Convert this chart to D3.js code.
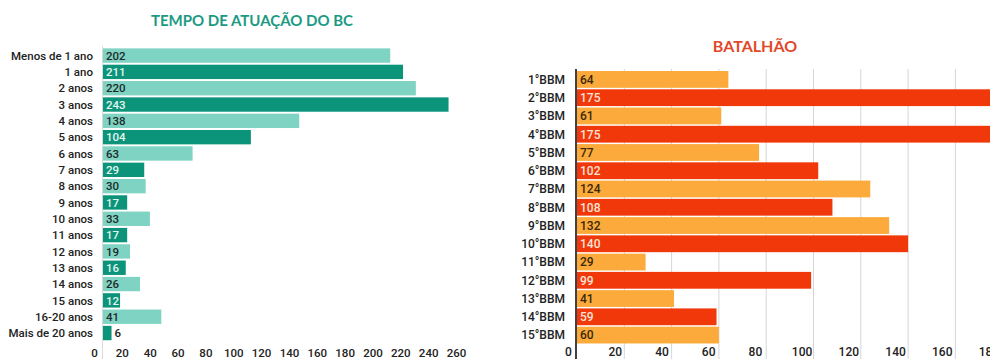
<!DOCTYPE html>
<html>
<head>
<meta charset="utf-8">
<script src="https://cdn.jsdelivr.net/npm/d3@7"></script>
<style>
  html, body { margin: 0; padding: 0; background: #fff; overflow: hidden; }
  svg { display: block; }
</style>
</head>
<body>
<svg id="chart" width="990" height="359"></svg>
<script>
// ---- Data ----
const tempoCategories = ["Menos de 1 ano","1 ano","2 anos","3 anos","4 anos","5 anos","6 anos","7 anos","8 anos","9 anos","10 anos","11 anos","12 anos","13 anos","14 anos","15 anos","16-20 anos","Mais de 20 anos"];
const tempoValues = [202,211,220,243,138,104,63,29,30,17,33,17,19,16,26,12,41,6];
const tempoTicks = [0,20,40,60,80,100,120,140,160,180,200,220,240,260];
const tempoTitle = "TEMPO DE ATUAÇÃO DO BC";

const batalhaoCategories = ["1°BBM","2°BBM","3°BBM","4°BBM","5°BBM","6°BBM","7°BBM","8°BBM","9°BBM","10°BBM","11°BBM","12°BBM","13°BBM","14°BBM","15°BBM"];
const batalhaoValues = [64,175,61,175,77,102,124,108,132,140,29,99,41,59,60];
const batalhaoTicks = [0,20,40,60,80,100,120,140,160,180];
const batalhaoTitle = "BATALHÃO";

const svg = d3.select("#chart");
const labelFont = "Roboto, 'Liberation Sans', sans-serif";
const titleFont = "Lato, 'Open Sans', sans-serif";

// ---- Left chart ----
(function(){
  const g = svg.append("g");
  const x = d3.scaleLinear().domain([0, 260]).range([103, 103 + 260 * 1.422]);
  const xLab = d3.scaleLinear().domain([0, 260]).range([94, 456]);
  const y = d3.scaleBand().domain(tempoCategories).range([47.4, 341.2]).paddingInner(0.12).paddingOuter(0.06);
  const colors = ["#7fd3c3", "#0b947a"];
  const data = tempoCategories.map((c, i) => ({c, v: tempoValues[i], i}));
  const outside = d => (x(d.v) - x(0) < 12);

  g.append("text").attr("x", 252).attr("y", 25.5).attr("text-anchor", "middle")
    .attr("font-family", titleFont).attr("font-weight", 700).attr("font-size", 15)
    .attr("fill", "#1b9a83").text(tempoTitle);

  g.append("line").attr("x1", 102.5).attr("x2", 102.5).attr("y1", 46).attr("y2", 359)
    .attr("stroke", "#d9d9d9").attr("stroke-width", 1);

  g.selectAll("rect.bar").data(data).join("rect").attr("class", "bar")
    .attr("x", x(0)).attr("y", d => y(d.c))
    .attr("width", d => x(d.v) - x(0)).attr("height", y.bandwidth())
    .attr("fill", d => colors[d.i % 2]);

  g.selectAll("text.cat").data(data).join("text").attr("class", "cat")
    .attr("x", 93).attr("y", d => y(d.c) + y.bandwidth() / 2).attr("dy", "0.36em")
    .attr("text-anchor", "end").attr("font-family", labelFont).attr("font-weight", 500)
    .attr("font-size", 11.5).attr("fill", "#222").text(d => d.c);

  g.selectAll("text.val").data(data).join("text").attr("class", "val")
    .attr("x", d => outside(d) ? x(d.v) + 3 : x(0) + 3)
    .attr("y", d => y(d.c) + y.bandwidth() / 2).attr("dy", "0.36em")
    .attr("font-family", labelFont).attr("font-weight", 500).attr("font-size", 11.5)
    .attr("fill", d => outside(d) ? "#222" : (d.i % 2 ? "#e3f5ef" : "#1d2a28"))
    .text(d => d.v);

  const ax = g.append("g").attr("transform", "translate(0,348.5)")
    .call(d3.axisBottom(xLab).tickValues(tempoTicks).tickSize(0).tickPadding(0));
  ax.select(".domain").remove();
  ax.selectAll("text").attr("font-family", labelFont).attr("font-weight", 500)
    .attr("font-size", 11.5).attr("fill", "#222");
})();

// ---- Right chart ----
(function(){
  const g = svg.append("g");
  const x = d3.scaleLinear().domain([0, 180]).range([577, 577 + 180 * 2.365]);
  const xLab = d3.scaleLinear().domain([0, 180]).range([568, 568 + 180 * 2.336]);
  const y = d3.scaleBand().domain(batalhaoCategories).range([70.3, 344.2]).paddingInner(0.08).paddingOuter(0.04);
  const colors = ["#fbaa3b", "#f0380a"];
  const data = batalhaoCategories.map((c, i) => ({c, v: batalhaoValues[i], i}));

  g.append("text").attr("x", 755).attr("y", 51.5).attr("text-anchor", "middle")
    .attr("font-family", titleFont).attr("font-weight", 700).attr("font-size", 16)
    .attr("fill", "#e2492b").text(batalhaoTitle);

  g.selectAll("line.grid").data(batalhaoTicks.filter(t => t > 0)).join("line").attr("class", "grid")
    .attr("x1", d => x(d)).attr("x2", d => x(d)).attr("y1", 69).attr("y2", 359)
    .attr("stroke", "#d6d6d6").attr("stroke-width", 1);

  g.selectAll("rect.bar").data(data).join("rect").attr("class", "bar")
    .attr("x", x(0)).attr("y", d => y(d.c))
    .attr("width", d => x(d.v) - x(0)).attr("height", y.bandwidth())
    .attr("fill", d => colors[d.i % 2]);

  g.append("line").attr("x1", 576).attr("x2", 576).attr("y1", 69).attr("y2", 359)
    .attr("stroke", "#111").attr("stroke-width", 1.6);

  g.selectAll("text.cat").data(data).join("text").attr("class", "cat")
    .attr("x", 565).attr("y", d => y(d.c) + y.bandwidth() / 2).attr("dy", "0.36em")
    .attr("text-anchor", "end").attr("font-family", labelFont).attr("font-weight", 500)
    .attr("font-size", 12).attr("fill", "#222").text(d => d.c);

  g.selectAll("text.val").data(data).join("text").attr("class", "val")
    .attr("x", x(0) + 3)
    .attr("y", d => y(d.c) + y.bandwidth() / 2).attr("dy", "0.36em")
    .attr("font-family", labelFont).attr("font-weight", 500).attr("font-size", 12)
    .attr("fill", d => d.i % 2 ? "#fbe3d6" : "#3a2808")
    .text(d => d.v);

  const ax = g.append("g").attr("transform", "translate(0,347.5)")
    .call(d3.axisBottom(xLab).tickValues(batalhaoTicks).tickSize(0).tickPadding(0));
  ax.select(".domain").remove();
  ax.selectAll("text").attr("font-family", labelFont).attr("font-weight", 500)
    .attr("font-size", 12).attr("fill", "#222");
})();
</script>
</body>
</html>
